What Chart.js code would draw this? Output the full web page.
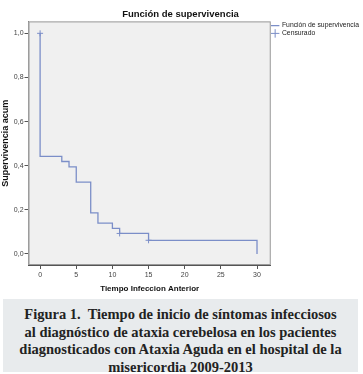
<!DOCTYPE html>
<html>
<head>
<meta charset="utf-8">
<script src="https://cdn.jsdelivr.net/npm/chart.js@4/dist/chart.umd.min.js"></script>
<style>
  body { margin: 0; background: #fff; width: 363px; height: 374px; overflow: hidden; position: relative; }
  #caja { position: absolute; left: 0; top: 0; width: 363px; height: 294px; }
  #pie { position: absolute; left: 3px; top: 299px; width: 355px; height: 73px; background: #e8ebed;
         font-family: "Liberation Serif", serif; font-weight: bold; font-size: 14.5px; line-height: 17.5px;
         text-align: center; color: #222; padding-top: 7px; box-sizing: border-box; }
</style>
</head>
<body>
<div id="caja"><canvas id="grafico"></canvas></div>
<div id="pie">Figura 1.&nbsp; Tiempo de inicio de síntomas infecciosos<br>al diagnóstico de ataxia cerebelosa en los pacientes<br>diagnosticados con Ataxia Aguda en el hospital de la<br>misericordia 2009-2013</div>
<script>
// tiempos de evento y supervivencia acumulada (Kaplan-Meier)
const tiempos = [0, 0, 3, 4, 5, 7, 8, 10, 11, 15, 30];
const supervivencia = [1.0, 0.442, 0.419, 0.395, 0.326, 0.186, 0.140, 0.116, 0.093, 0.062, 0.0];
// casos censurados
const tiemposCens = [0, 11, 15];
const supCens = [1.0, 0.093, 0.062];
const ticksX = [0, 5, 10, 15, 20, 25, 30];
const ticksY = [0, 0.2, 0.4, 0.6, 0.8, 1.0];

const fondo = {
    id: 'fondo',
    beforeDatasetsDraw(chart){
        const a = chart.chartArea, ctx = chart.ctx;
        ctx.save();
        ctx.fillStyle = '#f0f0f0';
        ctx.fillRect(a.left, a.top, a.right - a.left, a.bottom - a.top);
        ctx.strokeStyle = '#9a9a9a';
        ctx.lineWidth = 1;
        ctx.strokeRect(a.left + 0.5, a.top + 0.5, a.right - a.left - 1, a.bottom - a.top - 1);
        ctx.restore();
    }
};

function crear(){
    const ctx = document.getElementById('grafico').getContext('2d');
    new Chart(ctx, {
        type: 'scatter',
        data: {
            datasets: [
                {
                    label: 'Función de supervivencia',
                    data: tiempos.map((t, i) => ({x: t, y: supervivencia[i]})),
                    showLine: true,
                    stepped: 'before',
                    borderColor: '#7b8ec8',
                    backgroundColor: '#7b8ec8',
                    borderWidth: 1.3,
                    pointRadius: 0,
                    pointStyle: 'line'
                },{
                    label: 'Censurado',
                    data: tiemposCens.map((t, i) => ({x: t, y: supCens[i]})),
                    showLine: false,
                    borderColor: '#7b8ec8',
                    backgroundColor: '#7b8ec8',
                    pointStyle: 'cross',
                    pointRadius: 3,
                    borderWidth: 1
                }
            ]
        },
        options: {
            responsive: true,
            maintainAspectRatio: false,
            animation: false,
            layout: { padding: { left: 0, right: 2, top: 5, bottom: 0 } },
            scales: {
                x: {
                    type: 'linear',
                    min: -1.6, max: 31.9,
                    afterBuildTicks: s => { s.ticks = ticksX.map(v => ({value: v})); },
                    grid: { drawOnChartArea: false, drawTicks: true, tickLength: 4, color: '#555' },
                    border: { color: '#555' },
                    ticks: { color: '#444', font: { family: 'Arial, "Liberation Sans"', size: 7 }, padding: 2, maxRotation: 0 },
                    title: { display: true, text: 'Tiempo Infeccion Anterior', color: '#111',
                             font: { family: 'Arial, "Liberation Sans"', size: 8, weight: 'bold' }, padding: { top: 3, bottom: 0 } }
                },
                y: {
                    min: -0.05, max: 1.054,
                    afterBuildTicks: s => { s.ticks = ticksY.map(v => ({value: v})); },
                    grid: { drawOnChartArea: false, drawTicks: true, tickLength: 4, color: '#555' },
                    border: { color: '#555' },
                    ticks: { color: '#444', font: { family: 'Arial, "Liberation Sans"', size: 7 }, padding: 1,
                             callback: v => v.toFixed(1).replace('.', ',') },
                    title: { display: true, text: 'Supervivencia acum', color: '#111',
                             font: { family: 'Arial, "Liberation Sans"', size: 9, weight: 'bold' }, padding: { top: 0, bottom: 2 } }
                }
            },
            plugins: {
                title: { display: true, text: 'Función de supervivencia', color: '#111',
                         font: { family: 'Arial, "Liberation Sans"', size: 9.5, weight: 'bold' }, padding: { top: 4, bottom: 1 } },
                legend: {
                    display: true, position: 'right', align: 'start',
                    title: { display: true, text: ' ', font: { size: 1 }, padding: { top: 15, bottom: 0 } },
                    labels: { usePointStyle: true, boxWidth: 8, boxHeight: 6, padding: 1, color: '#222',
                              font: { family: '"Liberation Sans Narrow", Arial', size: 6.8 } }
                },
                tooltip: { enabled: false }
            }
        },
        plugins: [fondo]
    });
}

window.addEventListener('load', crear);
</script>
</body>
</html>
